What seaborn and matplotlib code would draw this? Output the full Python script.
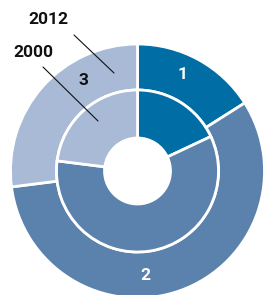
import matplotlib
matplotlib.use("Agg")
import matplotlib.pyplot as plt
import seaborn as sns

categories = ["1", "2", "3"]
values_2012 = [16, 57, 27]
values_2000 = [18, 59, 23]
colors = ["#006DA4", "#5B82AC", "#A8BAD6"]
label_colors = ["white", "white", "#111111"]

sns.set_theme(style="white")
plt.rcParams['font.family'] = ['Roboto', 'DejaVu Sans']

fig = plt.figure(figsize=(2.65, 2.95), dpi=100)
ax = fig.add_axes([0, 0, 1, 1])
R = 127.0
cx, cy = 137.5, 171.0

outer_w = 1 - 81 / R
inner_r = 81 / R
inner_w = inner_r - 33 / R

ax.pie(values_2012, radius=1.0, colors=colors, startangle=90, counterclock=False,
       wedgeprops=dict(width=outer_w, edgecolor='white', linewidth=2))
ax.pie(values_2000, radius=inner_r, colors=colors, startangle=90, counterclock=False,
       wedgeprops=dict(width=inner_w, edgecolor='white', linewidth=2))
ax.set_xlim(-cx / R, (265 - cx) / R)
ax.set_ylim(-(295 - cy) / R, cy / R)
ax.set_aspect('equal')
ax.axis('off')

def px(x, y):
    return ((x - cx) / R, (cy - y) / R)

label_pos = [(183, 74), (145, 275), (83, 80)]
for cat, pos, lc in zip(categories, label_pos, label_colors):
    ax.text(*px(*pos), cat, color=lc, fontsize=12.5, fontweight='bold',
            ha='center', va='center')

ax.text(*px(48, 20), "2012", fontsize=12.5, fontweight='bold', color='#111111',
        ha='center', va='center')
ax.text(*px(33, 52), "2000", fontsize=12.5, fontweight='bold', color='#111111',
        ha='center', va='center')
x0, y0 = px(74, 35); x1, y1 = px(114, 73)
ax.plot([x0, x1], [y0, y1], color='#111111', lw=0.8)
x0, y0 = px(43, 67); x1, y1 = px(98, 121)
ax.plot([x0, x1], [y0, y1], color='#111111', lw=0.8)

fig.savefig("out.png", dpi=100)
